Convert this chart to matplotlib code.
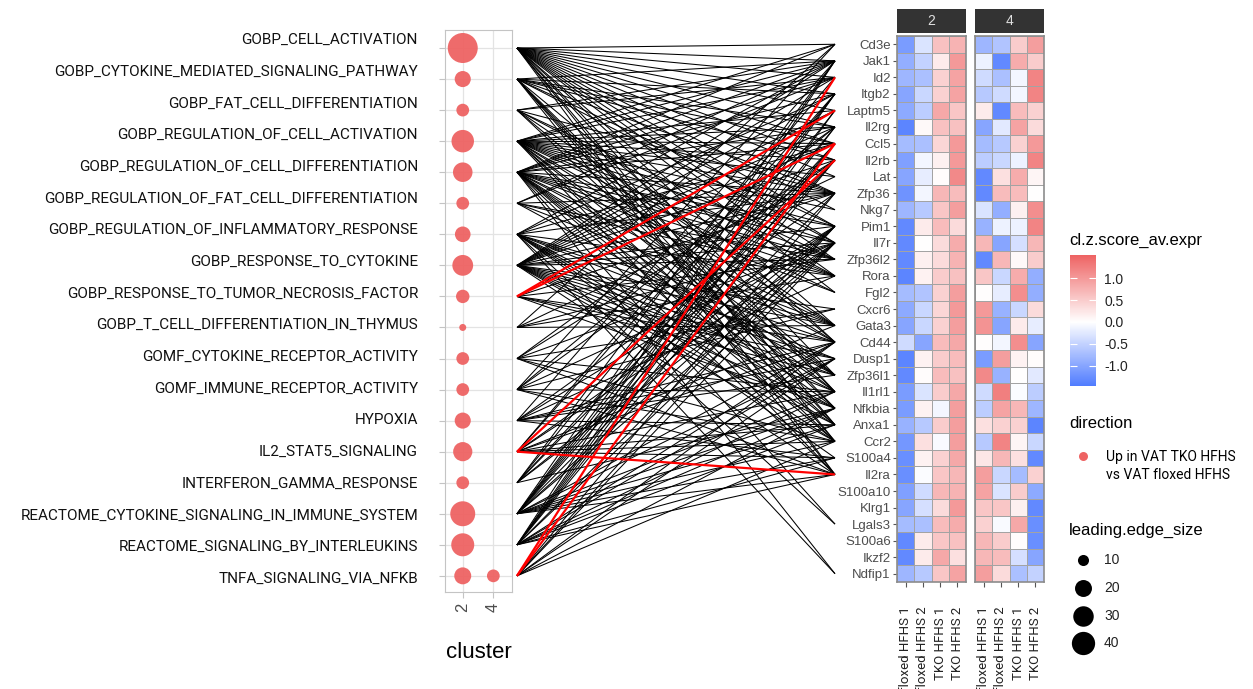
import numpy as np
import matplotlib
matplotlib.use('Agg')
import matplotlib.pyplot as plt
from matplotlib.colors import LinearSegmentedColormap, Normalize
from matplotlib.collections import LineCollection
from matplotlib.cm import ScalarMappable
from matplotlib.transforms import blended_transform_factory

# ---- data -----------------------------------------------------------------
pathways = ['GOBP_CELL_ACTIVATION', 'GOBP_CYTOKINE_MEDIATED_SIGNALING_PATHWAY',
            'GOBP_FAT_CELL_DIFFERENTIATION', 'GOBP_REGULATION_OF_CELL_ACTIVATION',
            'GOBP_REGULATION_OF_CELL_DIFFERENTIATION', 'GOBP_REGULATION_OF_FAT_CELL_DIFFERENTIATION',
            'GOBP_REGULATION_OF_INFLAMMATORY_RESPONSE', 'GOBP_RESPONSE_TO_CYTOKINE',
            'GOBP_RESPONSE_TO_TUMOR_NECROSIS_FACTOR', 'GOBP_T_CELL_DIFFERENTIATION_IN_THYMUS',
            'GOMF_CYTOKINE_RECEPTOR_ACTIVITY', 'GOMF_IMMUNE_RECEPTOR_ACTIVITY', 'HYPOXIA',
            'IL2_STAT5_SIGNALING', 'INTERFERON_GAMMA_RESPONSE',
            'REACTOME_CYTOKINE_SIGNALING_IN_IMMUNE_SYSTEM', 'REACTOME_SIGNALING_BY_INTERLEUKINS',
            'TNFA_SIGNALING_VIA_NFKB']
clusters = ['2', '4']

# one entry per dot
dot_pathway = pathways + ['TNFA_SIGNALING_VIA_NFKB']
dot_cluster = ['2'] * 18 + ['4']
dot_size = [72, 18, 12, 37, 27, 12, 17, 31, 13, 8, 12, 12, 18, 26, 12, 47, 39, 20, 12]

genes = ['Cd3e', 'Jak1', 'Id2', 'Itgb2', 'Laptm5', 'Il2rg', 'Ccl5', 'Il2rb', 'Lat', 'Zfp36',
         'Nkg7', 'Pim1', 'Il7r', 'Zfp36l2', 'Rora', 'Fgl2', 'Cxcr6', 'Gata3', 'Cd44', 'Dusp1',
         'Zfp36l1', 'Il1rl1', 'Nfkbia', 'Anxa1', 'Ccr2', 'S100a4', 'Il2ra', 'S100a10', 'Klrg1',
         'Lgals3', 'S100a6', 'Ikzf2', 'Ndfip1']
samples = ['floxed HFHS 1', 'floxed HFHS 2', 'TKO HFHS 1', 'TKO HFHS 2']

z_cluster2 = [
    [-1.10, -0.30, 0.60, 0.75], [-0.90, -0.50, 0.20, 1.00], [-0.80, -0.70, 0.45, 0.90],
    [-1.00, -0.45, 0.45, 0.90], [-0.95, -0.55, 0.85, 0.55], [-1.35, 0.05, 0.60, 0.60],
    [-0.75, -0.70, 0.40, 1.00], [-1.05, -0.10, 0.15, 1.00], [-1.00, -0.20, 0.03, 1.15],
    [-1.20, -0.10, 0.70, 0.65], [-0.80, -0.60, 0.55, 0.95], [-1.30, 0.20, 0.65, 0.35],
    [-1.30, 0.00, 0.35, 0.80], [-1.30, 0.15, 0.35, 0.75], [-1.35, 0.12, 0.50, 0.60],
    [-0.75, -0.65, 0.45, 0.95], [-0.95, -0.45, 0.40, 1.00], [-1.00, -0.45, 0.45, 0.95],
    [-0.40, -1.00, 0.65, 0.85], [-1.35, 0.12, 0.50, 0.65], [-1.30, 0.03, 0.65, 0.60],
    [-1.10, -0.30, 0.50, 0.85], [-1.10, 0.12, -0.10, 0.95], [-0.85, -0.60, 0.50, 0.95],
    [-1.15, 0.30, -0.05, 0.95], [-1.25, 0.12, 0.45, 0.85], [-1.25, -0.03, 0.55, 0.70],
    [-1.05, -0.40, 0.70, 0.75], [-1.00, -0.35, 0.35, 1.00], [-0.75, -0.70, 0.65, 0.80],
    [-1.30, 0.20, 0.55, 0.60], [-1.30, 0.20, 0.85, 0.30], [-0.80, -0.60, 0.55, 0.90]]

z_cluster4 = [
    [-0.80, -0.65, 0.50, 0.95], [-0.15, -1.30, 0.80, 0.50], [-0.40, -0.70, -0.10, 1.20],
    [-0.60, -0.40, -0.10, 1.20], [0.20, -1.30, 0.65, 0.45], [-1.00, -0.25, 0.90, 0.35],
    [-0.75, -0.60, 0.45, 1.00], [-0.55, -0.45, -0.15, 1.20], [-1.30, 0.30, 0.80, 0.10],
    [-1.30, 0.65, 0.65, 0.00], [-0.30, -0.90, 0.15, 1.10], [-0.85, -0.15, -0.15, 1.20],
    [0.70, -1.00, -0.35, 0.70], [-1.30, 0.70, 0.05, 0.50], [0.55, -0.45, 0.80, -0.90],
    [0.02, -0.20, 1.10, -0.90], [1.00, -0.85, -0.45, 0.35], [1.05, -1.00, 0.20, -0.20],
    [0.02, -0.10, 1.10, -1.00], [-1.10, 0.95, 0.12, 0.03], [1.15, -0.85, 0.00, -0.25],
    [-0.40, 1.25, -0.03, -0.55], [-0.55, 0.90, 0.70, -0.80], [0.30, 0.45, 0.45, -1.35],
    [-0.60, 1.20, 0.10, -0.45], [0.25, 0.70, 0.30, -1.30], [0.95, -0.45, -0.75, 0.45],
    [0.90, -0.30, 0.50, -0.95], [0.55, 0.55, 0.15, -1.30], [0.45, -0.05, 0.85, -1.25],
    [0.70, 0.50, 0.03, -1.25], [0.70, 0.65, -0.35, -1.00], [0.95, 0.35, -0.70, -0.50]]
z_range = (-1.457, 1.525)

# leading edge genes linking each pathway to the heatmap rows
links = {
    'GOBP_CELL_ACTIVATION': ['Cd3e', 'Jak1', 'Id2', 'Itgb2', 'Laptm5', 'Il2rg', 'Ccl5', 'Il2rb', 'Lat',
                             'Zfp36', 'Nkg7', 'Pim1', 'Il7r', 'Zfp36l2', 'Rora', 'Fgl2', 'Gata3', 'Cd44',
                             'Zfp36l1', 'Il1rl1', 'Anxa1', 'Ccr2', 'Il2ra'],
    'GOBP_CYTOKINE_MEDIATED_SIGNALING_PATHWAY': ['Jak1', 'Itgb2', 'Il2rg', 'Ccl5', 'Il2rb', 'Zfp36', 'Pim1',
                                                 'Il7r', 'Cd44', 'Il1rl1', 'Nfkbia', 'Anxa1', 'Ccr2', 'Il2ra'],
    'GOBP_FAT_CELL_DIFFERENTIATION': ['Id2', 'Jak1', 'Zfp36', 'Zfp36l2', 'Rora', 'Gata3', 'Zfp36l1', 'Nfkbia'],
    'GOBP_REGULATION_OF_CELL_ACTIVATION': ['Cd3e', 'Jak1', 'Id2', 'Laptm5', 'Il2rg', 'Ccl5', 'Il2rb', 'Lat',
                                           'Zfp36', 'Nkg7', 'Pim1', 'Il7r', 'Zfp36l2', 'Rora', 'Fgl2', 'Gata3',
                                           'Cd44', 'Zfp36l1', 'Il1rl1', 'Anxa1', 'Ccr2', 'Il2ra'],
    'GOBP_REGULATION_OF_CELL_DIFFERENTIATION': ['Cd3e', 'Jak1', 'Id2', 'Itgb2', 'Il2rg', 'Ccl5', 'Zfp36', 'Pim1',
                                                'Il7r', 'Zfp36l2', 'Rora', 'Fgl2', 'Gata3', 'Cd44', 'Zfp36l1',
                                                'Il1rl1', 'Nfkbia', 'Anxa1', 'Ccr2', 'Il2ra', 'Lgals3', 'Ndfip1'],
    'GOBP_REGULATION_OF_FAT_CELL_DIFFERENTIATION': ['Id2', 'Jak1', 'Zfp36', 'Zfp36l2', 'Rora', 'Gata3', 'Zfp36l1'],
    'GOBP_REGULATION_OF_INFLAMMATORY_RESPONSE': ['Jak1', 'Itgb2', 'Ccl5', 'Zfp36', 'Rora', 'Gata3', 'Cd44',
                                                 'Dusp1', 'Il1rl1', 'Nfkbia', 'Anxa1', 'Ccr2', 'S100a4',
                                                 'Lgals3', 'Ndfip1'],
    'GOBP_RESPONSE_TO_CYTOKINE': ['Jak1', 'Id2', 'Itgb2', 'Laptm5', 'Il2rg', 'Ccl5', 'Il2rb', 'Zfp36', 'Pim1',
                                  'Il7r', 'Zfp36l2', 'Cxcr6', 'Gata3', 'Cd44', 'Dusp1', 'Zfp36l1', 'Il1rl1',
                                  'Nfkbia', 'Anxa1', 'Ccr2', 'Il2ra'],
    'GOBP_RESPONSE_TO_TUMOR_NECROSIS_FACTOR': ['Laptm5', 'Ccl5', 'Zfp36', 'Zfp36l2', 'Cd44', 'Dusp1',
                                               'Zfp36l1', 'Nfkbia'],
    'GOBP_T_CELL_DIFFERENTIATION_IN_THYMUS': ['Cd3e', 'Lat', 'Il7r', 'Rora', 'Gata3'],
    'GOMF_CYTOKINE_RECEPTOR_ACTIVITY': ['Il2rg', 'Il2rb', 'Il7r', 'Cxcr6', 'Il1rl1', 'Ccr2', 'Il2ra'],
    'GOMF_IMMUNE_RECEPTOR_ACTIVITY': ['Cd3e', 'Il2rg', 'Il2rb', 'Il7r', 'Cxcr6', 'Il1rl1', 'Ccr2', 'Il2ra'],
    'HYPOXIA': ['Jak1', 'Zfp36', 'Pim1', 'Rora', 'Cd44', 'Dusp1', 'Zfp36l1', 'Anxa1', 'S100a4'],
    'IL2_STAT5_SIGNALING': ['Id2', 'Itgb2', 'Il2rb', 'Pim1', 'Il7r', 'Gata3', 'Cd44', 'Il1rl1', 'Anxa1',
                            'Ccr2', 'S100a4', 'Il2ra'],
    'INTERFERON_GAMMA_RESPONSE': ['Jak1', 'Itgb2', 'Ccl5', 'Il2rb', 'Pim1', 'Il7r', 'Nfkbia'],
    'REACTOME_CYTOKINE_SIGNALING_IN_IMMUNE_SYSTEM': ['Jak1', 'Itgb2', 'Laptm5', 'Il2rg', 'Ccl5', 'Il2rb', 'Zfp36',
                                                     'Pim1', 'Il7r', 'Cd44', 'Dusp1', 'Il1rl1', 'Nfkbia', 'Anxa1',
                                                     'Ccr2', 'S100a4', 'Il2ra'],
    'REACTOME_SIGNALING_BY_INTERLEUKINS': ['Jak1', 'Itgb2', 'Laptm5', 'Il2rg', 'Ccl5', 'Il2rb', 'Pim1', 'Il7r',
                                           'Cd44', 'Dusp1', 'Il1rl1', 'Nfkbia', 'Anxa1', 'S100a4', 'Il2ra'],
    'TNFA_SIGNALING_VIA_NFKB': ['Id2', 'Ccl5', 'Zfp36', 'Pim1', 'Il7r', 'Cd44', 'Dusp1', 'Nfkbia', 'Ccr2'],
}
red_links = [('GOBP_RESPONSE_TO_TUMOR_NECROSIS_FACTOR', 'Laptm5'),
             ('GOBP_RESPONSE_TO_TUMOR_NECROSIS_FACTOR', 'Ccl5'),
             ('IL2_STAT5_SIGNALING', 'Il2rb'), ('IL2_STAT5_SIGNALING', 'Il2ra'),
             ('TNFA_SIGNALING_VIA_NFKB', 'Id2'), ('TNFA_SIGNALING_VIA_NFKB', 'Ccl5')]

size_breaks = [10, 20, 30, 40]
direction_label = 'Up in VAT TKO HFHS\nvs VAT floxed HFHS'

# ---- style ----------------------------------------------------------------
W, H = 1253, 689
dot_red = '#EE6363'
cmap = LinearSegmentedColormap.from_list('z', ['#4876FF', '#FFFFFF', '#EE6363'])
lim = max(abs(z_range[0]), abs(z_range[1]))
norm = Normalize(-lim, lim)
sans = 'Liberation Sans'
label_font = 'Roboto'

smin, smax = min(dot_size), max(dot_size)


def diam_px(v):
    return 7 + 23 * np.sqrt((np.asarray(v, float) - smin) / (smax - smin))


def area_pt(v):
    return (diam_px(v) * 72 / 100) ** 2


def box(l, t, r, b):
    return [l / W, 1 - b / H, (r - l) / W, (b - t) / H]


fig = plt.figure(figsize=(W / 100, H / 100), dpi=100)

# ---- dot plot -------------------------------------------------------------
ax_dot = fig.add_axes(box(445, 30, 512, 592))
px = [clusters.index(c) for c in dot_cluster]
py = [pathways.index(p) for p in dot_pathway]
ax_dot.scatter(px, py, s=area_pt(dot_size), color=dot_red, alpha=0.95, linewidths=0, zorder=3)
ax_dot.set_xlim(-0.58, 1.61)
ax_dot.set_ylim(17.52, -0.58)
ax_dot.set_xticks(range(len(clusters)))
ax_dot.set_xticklabels(clusters, rotation=90, fontsize=12, color='#4d4d4d', family=sans)
ax_dot.set_yticks(range(len(pathways)))
ax_dot.set_yticklabels([])
ax_dot.grid(True, color='#e3e3e3', lw=0.9, zorder=0)
ax_dot.set_axisbelow(True)
for s in ax_dot.spines.values():
    s.set_color('#c4c4c4')
ax_dot.tick_params(axis='both', length=4.5, color='#c4c4c4', width=0.8)
ax_dot.tick_params(axis='x', pad=3)
ax_dot.set_xlabel('cluster', fontsize=16, family=sans, labelpad=22)

# pathway labels, placed as their own column
ax_lab = fig.add_axes(box(0, 30, 418, 592))
ax_lab.set_ylim(17.41, -0.315)
ax_lab.axis('off')
tr = blended_transform_factory(ax_lab.transAxes, ax_lab.transData)
for i, p in enumerate(pathways):
    ax_lab.text(1, i, p, transform=tr, ha='right', va='center', fontsize=11,
                family=label_font, color='#111111')

# ---- heatmap --------------------------------------------------------------
panels = [('2', z_cluster2, box(897, 36, 966, 582)), ('4', z_cluster4, box(975, 36, 1044, 582))]
heat_axes = []
for k, (name, z, pos) in enumerate(panels):
    ax = fig.add_axes(pos)
    ax.pcolormesh(np.arange(len(samples) + 1), np.arange(len(genes) + 1), np.array(z),
                  cmap=cmap, norm=norm, edgecolors='#a3a3a3', linewidth=0.7)
    ax.set_xlim(0, len(samples))
    ax.set_ylim(len(genes), 0)
    ax.set_xticks(np.arange(len(samples)) + 0.5)
    ax.set_xticklabels(samples, rotation=90, fontsize=9.5, family=label_font, color='#222222',
                       va='top')
    ax.set_yticks(np.arange(len(genes)) + 0.5)
    if k == 0:
        ax.set_yticklabels(genes, fontsize=9.5, family=sans, color='#4d4d4d')
        ax.tick_params(axis='y', length=3, color='#555555', width=0.8, pad=1.5)
    else:
        ax.set_yticklabels([])
        ax.tick_params(axis='y', length=0)
    ax.tick_params(axis='x', length=3.5, color='#555555', width=0.8, pad=14)
    for s in ax.spines.values():
        s.set_color('#8c8c8c')
        s.set_linewidth(1.2)
    heat_axes.append(ax)

    l, b, w, h = pos
    strip = fig.add_axes([l, 1 - 33 / H, w, 24 / H])
    strip.set_facecolor('#333333')
    strip.set_xticks([])
    strip.set_yticks([])
    for s in strip.spines.values():
        s.set_visible(False)
    strip.text(0.5, 0.5, name, ha='center', va='center', color='#e0e0e0', fontsize=10, family=sans,
               transform=strip.transAxes)

# ---- links between pathways and genes ------------------------------------
ax_link = fig.add_axes([0, 0, 1, 1], zorder=-1)
ax_link.set_xlim(0, W)
ax_link.set_ylim(0, H)
ax_link.axis('off')
inv = ax_link.transData.inverted()
x_left = ax_dot.transAxes.transform((1, 0))[0] + 5
x_right = heat_axes[0].transAxes.transform((0, 0))[0] - 62


def endpoints(p, g):
    yl = ax_dot.transData.transform((0, pathways.index(p)))[1]
    yr = heat_axes[0].transData.transform((0, genes.index(g) + 0.5))[1]
    return [inv.transform((x_left, yl)), inv.transform((x_right, yr))]


black = [endpoints(p, g) for p, gs in links.items() for g in gs if (p, g) not in red_links]
red = [endpoints(p, g) for p, g in red_links]
ax_link.add_collection(LineCollection(black, colors='black', linewidths=0.75))
ax_link.add_collection(LineCollection(red, colors='#FF0000', linewidths=1.6))

# ---- legends --------------------------------------------------------------
cax = fig.add_axes(box(1070, 255, 1096, 386))
cb = fig.colorbar(ScalarMappable(norm=norm, cmap=cmap), cax=cax)
cb.outline.set_visible(False)
cax.set_ylim(*z_range)
cb.set_ticks([1.0, 0.5, 0.0, -0.5, -1.0])
cb.set_ticklabels(['1.0', '0.5', '0.0', '-0.5', '-1.0'])
cax.yaxis.set_ticks_position('both')
cax.tick_params(axis='y', direction='in', length=5, width=0.8, color='white',
                labelsize=10, labelright=True, labelleft=False, pad=6, labelcolor='#222222')
for t in cax.get_yticklabels():
    t.set_family(sans)

ax_leg = fig.add_axes([0, 0, 1, 1], zorder=5)
ax_leg.set_xlim(0, W)
ax_leg.set_ylim(H, 0)
ax_leg.axis('off')
ax_leg.text(1069, 240, 'cl.z.score_av.expr', fontsize=12, family=sans, va='center')
ax_leg.text(1069, 423, 'direction', fontsize=12, family=sans, va='center')
ax_leg.scatter([1083], [456], s=(9 * 0.72) ** 2, color=dot_red, linewidths=0)
ax_leg.text(1106, 466, direction_label, fontsize=10, family=label_font, va='center',
            linespacing=1.35)
ax_leg.text(1069, 530, 'leading.edge_size', fontsize=12, family=sans, va='center')
for j, v in enumerate(size_breaks):
    yy = 560 + j * 27.8
    ax_leg.scatter([1083], [yy], s=area_pt(v), color='black', linewidths=0)
    ax_leg.text(1104, yy, str(v), fontsize=10, family=sans, va='center', color='#222222')

fig.savefig('out.png', dpi=100)
